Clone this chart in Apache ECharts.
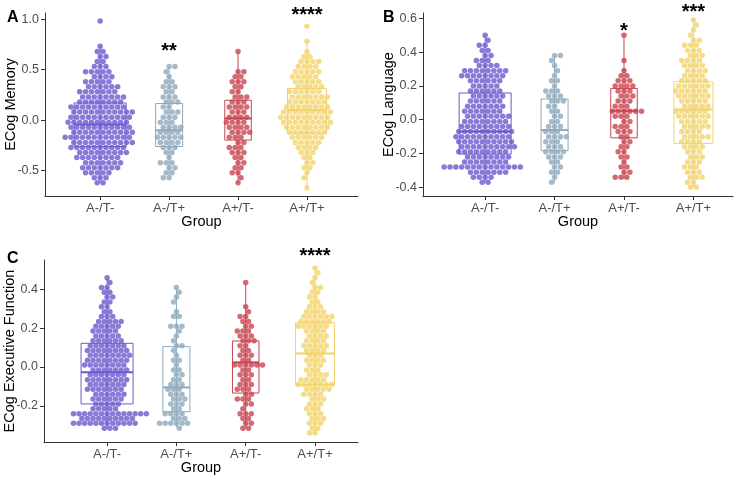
<!DOCTYPE html>
<html>
<head>
<meta charset="utf-8">
<title>ECog by group</title>
<script src="https://cdn.jsdelivr.net/npm/echarts@6.0.0/dist/echarts.min.js"></script>
<style>
  html, body { margin: 0; padding: 0; background: #fff; }
  #main { width: 740px; height: 478px; }
</style>
</head>
<body>
<div id="main"></div>
<script>
var groups = ['A-/T-', 'A-/T+', 'A+/T-', 'A+/T+'];

// ---- A: ECog Memory (swarm rows, number of points per row, top to bottom) ----
var memLevels = [0.98, 0.93, 0.88, 0.83, 0.78, 0.73, 0.68, 0.63, 0.58, 0.53, 0.48, 0.43, 0.38, 0.33,
    0.28, 0.23, 0.18, 0.13, 0.08, 0.03, -0.02, -0.07, -0.12, -0.17, -0.22, -0.27, -0.32, -0.37,
    -0.42, -0.47, -0.52, -0.57, -0.62, -0.67];
var memAnTn = [1,0,0,0,0,1,2,2,2,3,5,4,5,6,7,8,8,10,11,11,11,11,11,12,11,10,9,8,7,7,5,3,2,0];
var memAnTp = [0,0,0,0,0,0,0,0,0,2,1,1,2,3,2,3,3,2,3,3,3,4,4,5,4,3,2,1,3,2,2,2,0,0];
var memApTn = [0,0,0,0,0,0,1,0,0,0,2,2,3,2,2,3,3,4,3,4,4,4,4,3,2,3,3,2,2,2,2,1,1,0];
var memApTp = [0,1,0,0,1,0,1,2,4,4,5,5,5,5,6,7,7,8,9,9,9,8,7,6,5,4,3,2,2,2,1,1,0,1];
// box stats: [min, Q1, median, Q3, max]
var memBox = [[-0.62, -0.26, -0.043, 0.17, 0.73], [-0.56, -0.26, -0.10, 0.165, 0.526],
    [-0.62, -0.197, 0.017, 0.197, 0.674], [-0.67, -0.13, 0.10, 0.313, 0.78]];
var memTicks = [-0.5, 0, 0.5, 1.0];
var memSig = ['', '**', '', '****'];
var memSigY = [0, 0.724, 0, 1.086];

// ---- B: ECog Language ----
var langLevels = [0.59, 0.56, 0.53, 0.50, 0.47, 0.44, 0.41, 0.38, 0.35, 0.32, 0.29, 0.26, 0.23, 0.20,
    0.17, 0.14, 0.11, 0.08, 0.05, 0.02, -0.01, -0.04, -0.07, -0.10, -0.13, -0.16, -0.19, -0.22,
    -0.25, -0.28, -0.31, -0.34, -0.37, -0.40];
var langAnTn = [0,0,0,1,1,2,2,2,3,4,8,8,6,5,6,6,6,7,7,8,8,9,10,10,10,10,9,8,8,14,7,4,2,0];
var langAnTp = [0,0,0,0,0,0,0,2,1,1,1,1,2,1,3,3,3,2,2,2,2,3,3,4,3,3,4,3,2,2,2,1,1,0];
var langApTn = [0,0,0,1,0,0,0,0,1,0,1,2,3,4,3,3,3,3,6,3,2,3,3,2,2,2,2,2,1,2,2,3,0,0];
var langApTp = [1,1,1,1,2,3,3,3,4,4,4,4,5,6,6,6,5,5,6,6,5,5,4,5,4,4,3,3,3,3,3,3,2,2];
var langBox = [[-0.371, -0.203, -0.069, 0.158, 0.49], [-0.371, -0.183, -0.061, 0.122, 0.375],
    [-0.351, -0.107, 0.053, 0.185, 0.49], [-0.40, -0.14, 0.061, 0.225, 0.586]];
var langTicks = [-0.4, -0.2, 0, 0.2, 0.4, 0.6];
var langSig = ['', '', '*', '***'];
var langSigY = [0, 0, 0.553, 0.663];

// ---- C: ECog Executive Function ----
var efLevels = [0.51, 0.485, 0.46, 0.435, 0.41, 0.385, 0.36, 0.335, 0.31, 0.285, 0.26, 0.235, 0.21,
    0.185, 0.16, 0.135, 0.11, 0.085, 0.06, 0.035, 0.01, -0.015, -0.04, -0.065, -0.09, -0.115, -0.14,
    -0.165, -0.19, -0.215, -0.24, -0.265, -0.29, -0.315, -0.34];
var efAnTn = [0,0,1,1,2,2,2,2,2,2,3,5,5,5,5,6,7,8,8,8,8,7,7,8,7,7,6,6,5,5,14,10,12,3,0];
var efAnTp = [0,0,0,0,1,1,1,1,0,1,2,0,3,1,1,1,2,1,1,2,1,2,2,2,3,3,3,3,3,2,4,3,6,1,0];
var efApTn = [0,0,0,1,0,0,0,0,1,1,2,2,2,3,3,3,2,2,3,2,6,2,3,2,3,3,2,3,2,1,3,2,2,2,0];
var efApTp = [1,1,1,1,2,2,2,2,3,4,6,6,6,4,4,4,5,4,3,4,3,3,4,5,7,5,4,3,3,3,3,3,3,2,2];
var efBox = [[-0.316, -0.19, -0.027, 0.122, 0.457], [-0.31, -0.23, -0.105, 0.105, 0.40],
    [-0.313, -0.134, 0.024, 0.134, 0.426], [-0.347, -0.09, 0.07, 0.228, 0.514]];
var efTicks = [-0.2, 0, 0.2, 0.4];
var efSig = ['', '', '', '****'];
var efSigY = [0, 0, 0, 0.595];

var colors = ['#6a5acd', '#8fa9bc', '#c8434f', '#f2d36a'];
var boxWidths = [52, 27, 26.5, 39];
var FONT = '"Liberation Sans", Arial, Helvetica, sans-serif';

var panels = [
    {letter: 'A', title: 'ECog Memory', levels: memLevels, counts: [memAnTn, memAnTp, memApTn, memApTp],
        box: memBox, ticks: memTicks, sig: memSig, sigY: memSigY,
        grid: {left: 45, top: 13, width: 313, height: 183}, xr: [0.2, 4.74], yr: [-0.75, 1.06], lp: [7, 18]},
    {letter: 'B', title: 'ECog Language', levels: langLevels, counts: [langAnTn, langAnTp, langApTn, langApTp],
        box: langBox, ticks: langTicks, sig: langSig, sigY: langSigY,
        grid: {left: 423, top: 13, width: 310, height: 183}, xr: [0.105, 4.57], yr: [-0.451, 0.631], lp: [383, 17.5]},
    {letter: 'C', title: 'ECog Executive Function', levels: efLevels, counts: [efAnTn, efAnTp, efApTn, efApTp],
        box: efBox, ticks: efTicks, sig: efSig, sigY: efSigY,
        grid: {left: 44, top: 260, width: 314, height: 182}, xr: [0.09, 4.62], yr: [-0.386, 0.551], lp: [7, 258.5]}
];

// simple beeswarm: place each point as close to the centre as it can go without overlap
function swarmOffsets(ys, d) {
    var order = ys.map(function (y, i) { return i; }).sort(function (a, b) { return ys[a] - ys[b]; });
    var placed = [], out = new Array(ys.length), bal = 0;
    order.forEach(function (i) {
        var y = ys[i];
        var near = placed.filter(function (p) { return Math.abs(p.y - y) < d; });
        var cands = [0];
        near.forEach(function (p) {
            var dx = Math.sqrt(Math.max(0, d * d - (p.y - y) * (p.y - y)));
            cands.push(p.x + dx, p.x - dx);
        });
        cands.sort(function (a, b) {
            var da = Math.round(Math.abs(a) * 100), db = Math.round(Math.abs(b) * 100);
            if (da !== db) return da - db;
            return bal > 0 ? a - b : b - a;
        });
        var x = 0;
        for (var k = 0; k < cands.length; k++) {
            var c = cands[k];
            var ok = near.every(function (p) {
                return (p.x - c) * (p.x - c) + (p.y - y) * (p.y - y) >= d * d - 0.01;
            });
            if (ok) { x = c; break; }
        }
        placed.push({x: x, y: y});
        bal += x > 0.01 ? 1 : (x < -0.01 ? -1 : 0);
        out[i] = x;
    });
    return out;
}

var grids = [], xAxes = [], yAxes = [], series = [], graphics = [];

panels.forEach(function (p, pi) {
    var sx = p.grid.width / (p.xr[1] - p.xr[0]);
    var sy = p.grid.height / (p.yr[1] - p.yr[0]);
    var rowPx = Math.abs(p.levels[0] - p.levels[1]) * sy;
    var d = rowPx / 0.866;

    grids.push({left: p.grid.left, top: p.grid.top, width: p.grid.width, height: p.grid.height,
        outerBoundsMode: 'none'});

    xAxes.push({
        type: 'value', gridIndex: pi, min: p.xr[0], max: p.xr[1],
        name: 'Group', nameLocation: 'middle', nameGap: 18, nameMoveOverlap: false,
        nameTextStyle: {color: '#000', fontSize: 14.5, fontFamily: FONT},
        axisLine: {onZero: false, lineStyle: {color: '#333', width: 1}},
        axisTick: {customValues: [1, 2, 3, 4], length: 4, lineStyle: {color: '#333'}},
        axisLabel: {customValues: [1, 2, 3, 4], margin: 6, color: '#4d4d4d', fontSize: 13, fontFamily: FONT,
            formatter: function (v) { return groups[Math.round(v) - 1]; }},
        splitLine: {show: false}
    });
    yAxes.push({
        type: 'value', gridIndex: pi, min: p.yr[0], max: p.yr[1],
        name: p.title, nameLocation: 'middle', nameGap: 27, nameRotate: 90, nameMoveOverlap: false,
        nameTextStyle: {color: '#000', fontSize: 14.5, fontFamily: FONT},
        axisLine: {onZero: false, lineStyle: {color: '#333', width: 1}},
        axisTick: {customValues: p.ticks, length: 4, lineStyle: {color: '#333'}},
        axisLabel: {customValues: p.ticks, margin: 6, color: '#4d4d4d', fontSize: 12.5, fontFamily: FONT,
            formatter: function (v) { return v.toFixed(1); }},
        splitLine: {show: false}
    });

    // points of each group
    p.counts.forEach(function (cnt, gi) {
        var vals = [];
        p.levels.forEach(function (lv, li) {
            for (var k = 0; k < cnt[li]; k++) vals.push(lv);
        });
        var offs = swarmOffsets(vals.map(function (v) { return -v * sy; }), d);
        series.push({
            type: 'scatter', xAxisIndex: pi, yAxisIndex: pi, silent: true, z: 2,
            symbolSize: 5.5,
            itemStyle: {color: colors[gi], opacity: 0.8},
            data: vals.map(function (v, i) { return [gi + 1 + offs[i] / sx, v]; })
        });
    });

    // boxes
    series.push({
        type: 'custom', xAxisIndex: pi, yAxisIndex: pi, silent: true, z: 3,
        data: p.box.map(function (b, gi) { return [gi + 1].concat(b); }),
        renderItem: function (params, api) {
            var gi = params.dataIndex, x = api.value(0);
            var col = colors[gi], w = boxWidths[gi];
            var pMin = api.coord([x, api.value(1)]), pQ1 = api.coord([x, api.value(2)]);
            var pMed = api.coord([x, api.value(3)]), pQ3 = api.coord([x, api.value(4)]);
            var pMax = api.coord([x, api.value(5)]);
            var cx = pMed[0];
            return {
                type: 'group',
                children: [
                    {type: 'line', shape: {x1: cx, y1: pMax[1], x2: cx, y2: pMin[1]},
                        style: {stroke: col, lineWidth: 1}},
                    {type: 'rect', shape: {x: cx - w / 2, y: pQ3[1], width: w, height: pQ1[1] - pQ3[1]},
                        style: {fill: 'none', stroke: col, lineWidth: 1}},
                    {type: 'line', shape: {x1: cx - w / 2, y1: pMed[1], x2: cx + w / 2, y2: pMed[1]},
                        style: {stroke: col, lineWidth: 2}}
                ]
            };
        }
    });

    // significance stars
    var starData = [], starText = [];
    p.sig.forEach(function (s, gi) {
        if (s) { starData.push([gi + 1, p.sigY[gi]]); starText.push(s); }
    });
    series.push({
        type: 'custom', xAxisIndex: pi, yAxisIndex: pi, silent: true, z: 4,
        data: starData,
        renderItem: function (params, api) {
            var pt = api.coord([api.value(0), api.value(1)]);
            return {
                type: 'text', x: pt[0], y: pt[1] + 5,
                style: {text: starText[params.dataIndex], fill: '#000', align: 'center', verticalAlign: 'middle',
                    font: 'bold 20px ' + FONT}
            };
        }
    });

    graphics.push({
        type: 'text', x: p.lp[0], y: p.lp[1],
        style: {text: p.letter, fill: '#000', verticalAlign: 'middle', font: 'bold 16px ' + FONT}
    });
});

var chart = echarts.init(document.getElementById('main'), null, {renderer: 'canvas'});
chart.setOption({
    animation: false,
    backgroundColor: '#fff',
    grid: grids,
    xAxis: xAxes,
    yAxis: yAxes,
    graphic: graphics,
    series: series
});
</script>
</body>
</html>
